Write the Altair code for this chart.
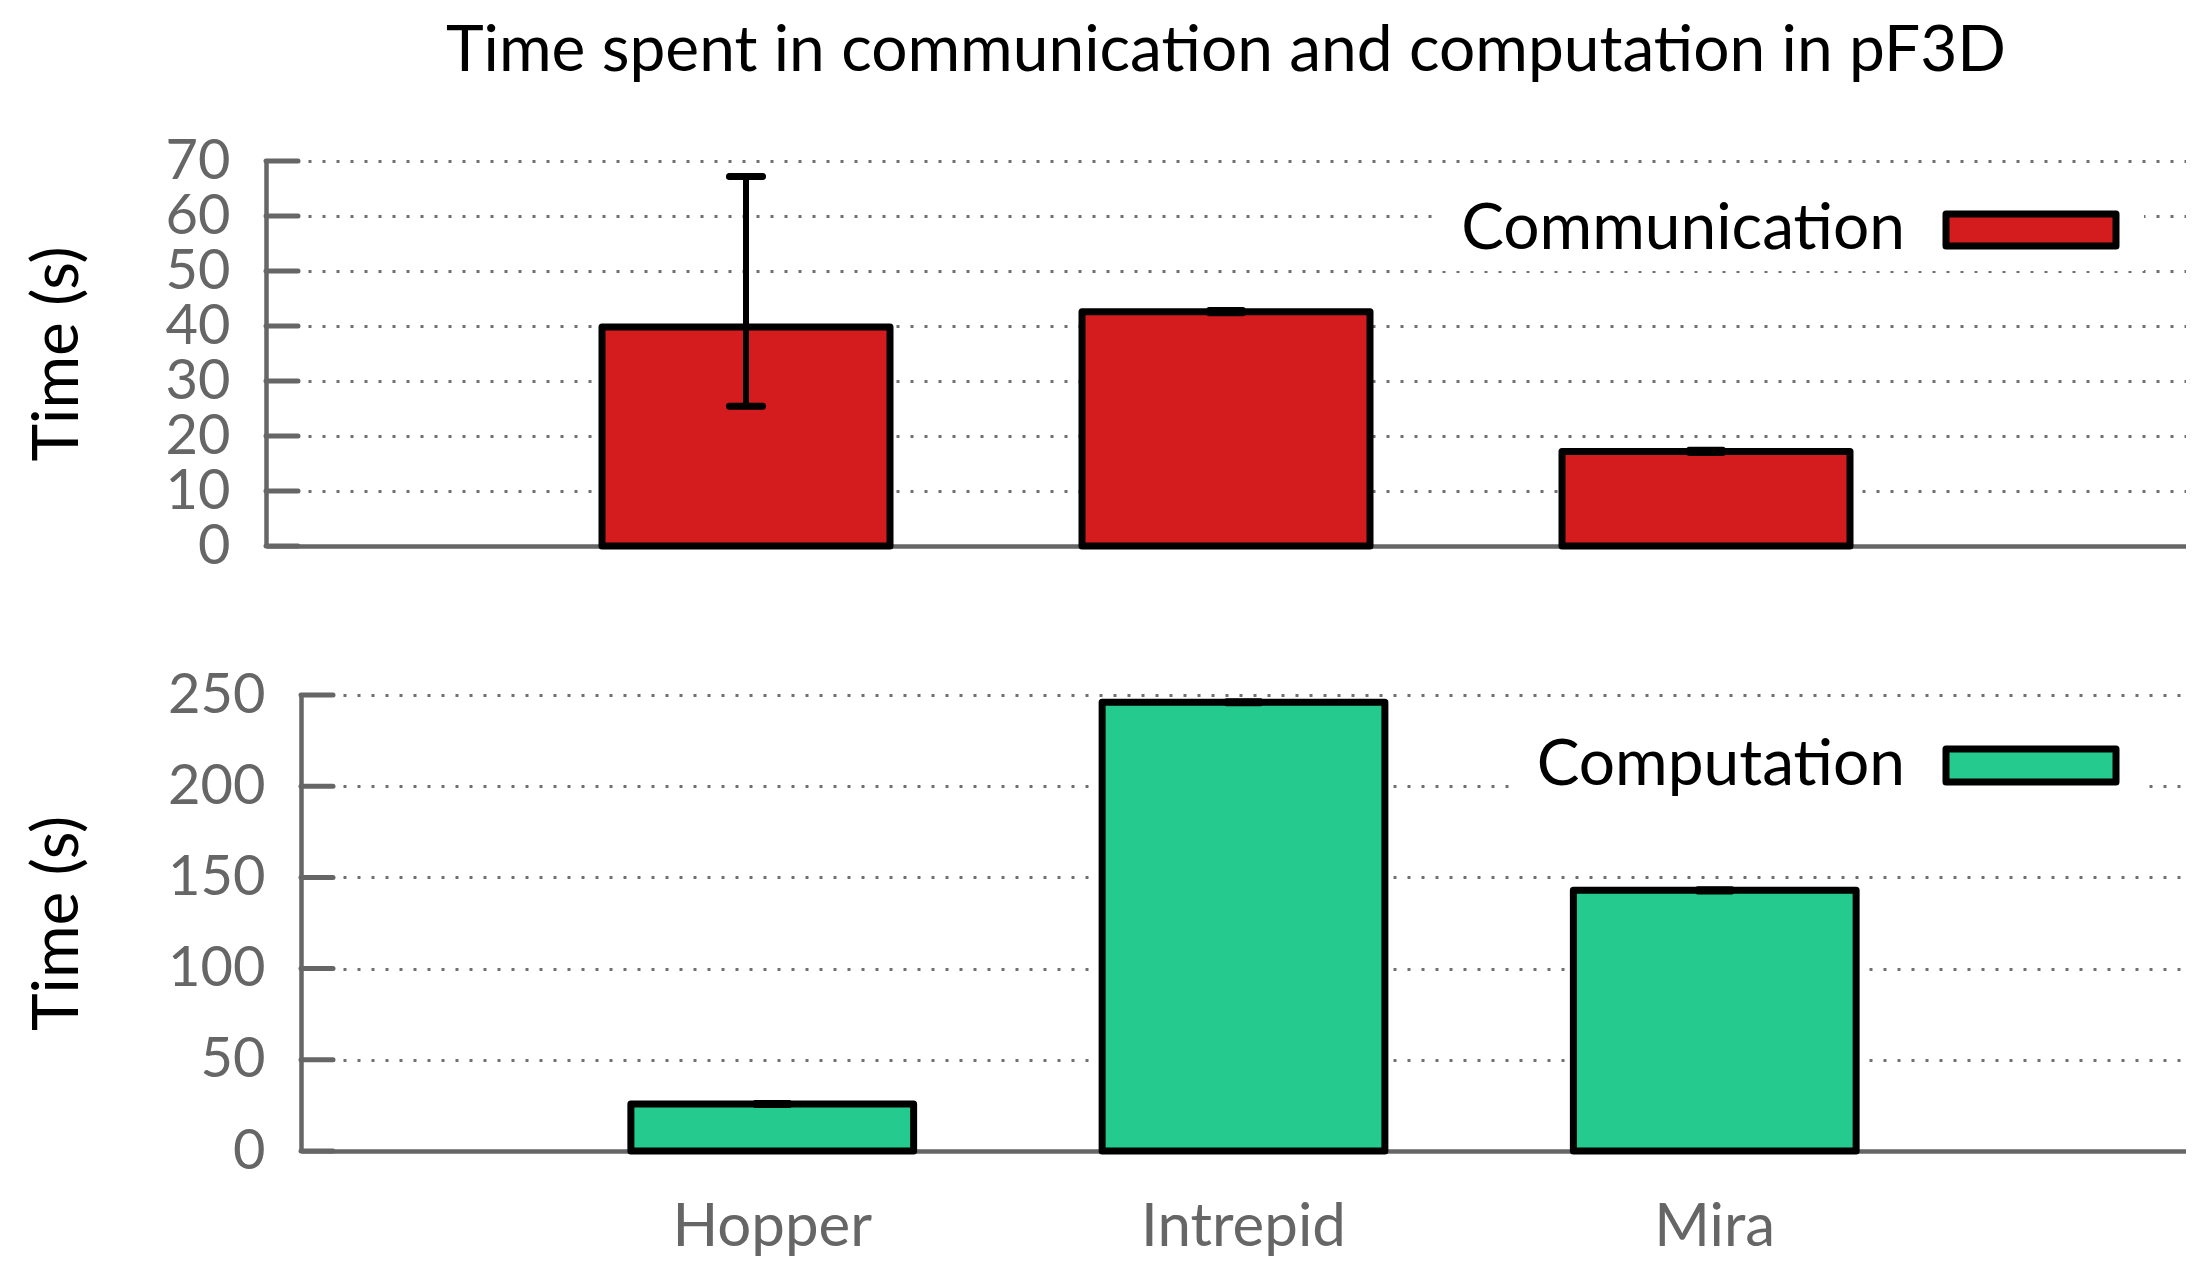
import altair as alt
import pandas as pd

# ---------------- data ----------------
machines = ["Hopper", "Intrepid", "Mira"]

comm_time = [39.8, 42.6, 17.2]
comm_err_lo = [25.4, 42.4, 17.0]
comm_err_hi = [67.2, 42.8, 17.4]

comp_time = [25.8, 246.0, 142.9]
comp_err_lo = [25.5, 245.7, 142.6]
comp_err_hi = [26.1, 246.3, 143.2]

comm_ticks = [0, 10, 20, 30, 40, 50, 60, 70]
comp_ticks = [0, 50, 100, 150, 200, 250]

title_text = "Time spent in communication and computation in pF3D"
y_title = "Time (s)"
legend_comm = ["Communication"]
legend_comp = ["Computation"]

# ---------------- style ----------------
FONT = "Lato"
GRAY = "#666666"
GRID = "#707070"
RED = "#D41B1D"
GREEN = "#25CB8E"

W = 1920
H1, H2 = 385, 456
TITLE_X = -176


def panel(times, lo, hi, ticks, ymax, fill, height, legend_label, inset,
          show_x_labels, leg):
    df = pd.DataFrame({"machine": machines, "time": times, "lo": lo, "hi": hi})
    xs = alt.Scale(domain=machines, paddingInner=0.4, paddingOuter=0.7,
                   range=[inset, W])
    ys = alt.Scale(domain=[0, ymax], nice=False, zero=True)

    if show_x_labels:
        xaxis = alt.Axis(title=None, ticks=False, grid=False, domain=True,
                         domainColor=GRAY, domainWidth=4.5, labelAngle=0,
                         labelFont=FONT, labelFontSize=60, labelColor=GRAY,
                         labelPadding=47, labelLimit=0)
    else:
        xaxis = alt.Axis(title=None, ticks=False, grid=False, labels=False,
                         domain=True, domainColor=GRAY, domainWidth=4.5)

    yaxis = alt.Axis(values=ticks, title=y_title, grid=True, gridDash=[3, 11],
                     gridColor=GRID, gridWidth=3, ticks=False, domainColor=GRAY,
                     domainWidth=4.5, labelFont=FONT, labelFontSize=56,
                     labelColor=GRAY, labelPadding=36, labelOverlap=False,
                     labelBound=False, titleFont=FONT, titleFontSize=64,
                     titleColor="black", titleFontWeight="normal",
                     titleX=TITLE_X - inset, titleY=height / 2, titleAngle=270,
                     titleAlign="center", titleBaseline="bottom",
                     offset=-inset)

    bars = alt.Chart(df).mark_bar(fill=fill, stroke="black", strokeWidth=7,
                                  strokeJoin="round").encode(
        x=alt.X("machine:N", scale=xs, axis=xaxis, sort=machines),
        y=alt.Y("time:Q", scale=ys, axis=yaxis),
    )

    err = alt.Chart(df).mark_rule(color="black", strokeWidth=6).encode(
        x=alt.X("machine:N", sort=machines),
        y=alt.Y("lo:Q"),
        y2="hi:Q",
    )
    cap_lo = alt.Chart(df).mark_tick(color="black", size=40, thickness=7,
                                     cornerRadius=3, opacity=1).encode(
        x=alt.X("machine:N", sort=machines), y=alt.Y("lo:Q"))
    cap_hi = alt.Chart(df).mark_tick(color="black", size=40, thickness=7,
                                     cornerRadius=3, opacity=1).encode(
        x=alt.X("machine:N", sort=machines), y=alt.Y("hi:Q"))

    tdf = pd.DataFrame({"v": ticks})
    inner_ticks = alt.Chart(tdf).mark_rule(color=GRAY, strokeWidth=5,
                                           strokeCap="round").encode(
        y=alt.Y("v:Q"), x=alt.value(inset), x2=alt.value(inset + 32))

    ldf = pd.DataFrame({"label": legend_label})
    bx0, bx1, by0, by1, tx, ty, sx0, sx1, sy0, sy1 = leg
    leg_bg = alt.Chart(ldf).mark_rect(color="white").encode(
        x=alt.value(bx0), x2=alt.value(bx1), y=alt.value(by0), y2=alt.value(by1))
    leg_text = alt.Chart(ldf).mark_text(align="right", baseline="middle",
                                        font=FONT, fontSize=64,
                                        color="black").encode(
        text="label:N", x=alt.value(tx), y=alt.value(ty))
    leg_sw = alt.Chart(ldf).mark_rect(fill=fill, stroke="black", strokeWidth=7,
                                      strokeJoin="round").encode(
        x=alt.value(sx0), x2=alt.value(sx1), y=alt.value(sy0), y2=alt.value(sy1))

    return alt.layer(bars, inner_ticks, err, cap_lo, cap_hi, leg_bg, leg_text,
                     leg_sw).properties(width=W, height=height)


# legend boxes: (bg x0, x1, y0, y1, text x, text y, swatch x0, x1, y0, y1)
top = panel(comm_time, comm_err_lo, comm_err_hi, comm_ticks, 70, RED, H1,
            legend_comm, 0, False,
            (1170, 1878, 28, 110, 1639, 69, 1680, 1850, 53, 85))
top = top.properties(title=alt.Title(title_text, font=FONT, fontSize=64,
                                     fontWeight="normal", color="black",
                                     anchor="middle", frame="group", offset=49))

bottom = panel(comp_time, comp_err_lo, comp_err_hi, comp_ticks, 250, GREEN, H2,
               legend_comp, 35, True,
               (1250, 1878, 28, 112, 1639, 71, 1680, 1850, 54, 87))

chart = alt.vconcat(top, bottom, spacing=93).properties(
    padding={"left": 18, "top": 12, "right": 0, "bottom": 0},
    background="white",
).configure_view(stroke=None)

chart.save("out.html", embed_options={"renderer": "svg", "actions": False})
